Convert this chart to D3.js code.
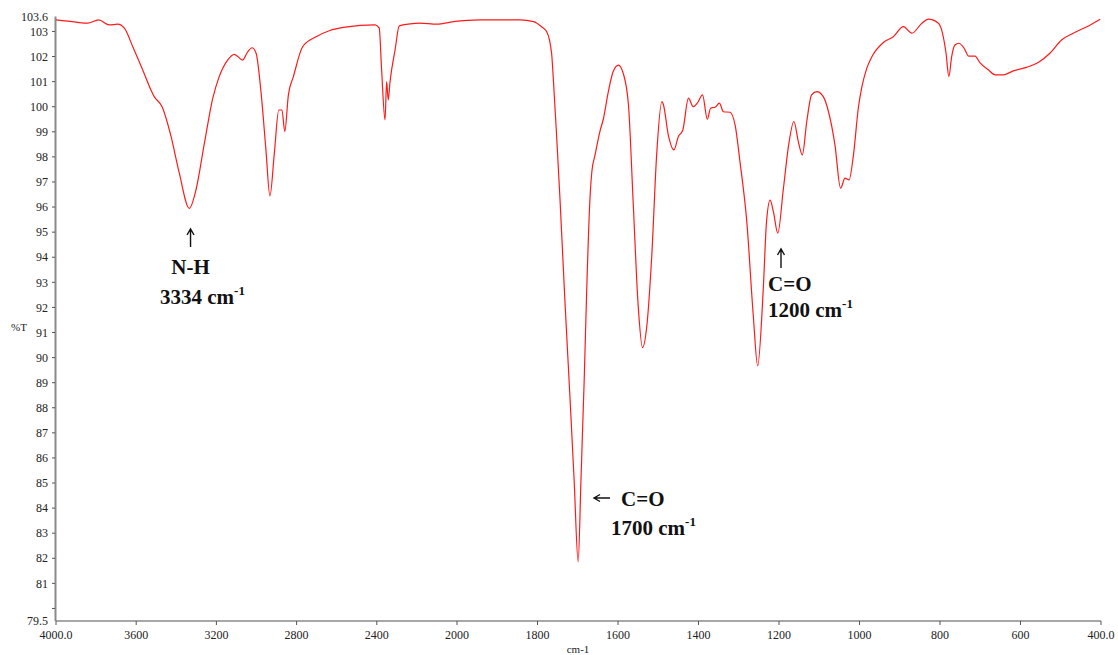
<!DOCTYPE html>
<html><head><meta charset="utf-8">
<script src="https://cdn.jsdelivr.net/npm/d3@7"></script>
<style>body{margin:0;background:#fff}svg{display:block}</style>
</head><body>
<svg id="c" width="1118" height="655"></svg>
<script>
// Wavenumber (cm-1)
const wavenumbers = [4000,3900,3842,3787,3734,3692,3659,3617,3568,3510,3471,3426,3385,3335,3302,3260,3218,3186,3144,3111,3069,3044,3022,3002,2977,2953,2933,2911,2889,2873,2859,2841,2816,2770,2703,2637,2557,2409,2388,2376,2359,2351,2343,2334,2309,2288,2234,2185,2101,2018,1943,1843,1810,1790,1777,1765,1761,1752,1744,1732,1719,1709,1699,1692,1684,1677,1670,1665,1657,1645,1636,1624,1612,1599,1587,1574,1562,1550,1539,1529,1516,1504,1491,1487,1475,1461,1450,1439,1425,1413,1403,1390,1378,1370,1359,1348,1338,1322,1309,1297,1280,1264,1253,1239,1231,1222,1214,1203,1189,1176,1163,1152,1142,1131,1119,1106,1090,1077,1061,1047,1036,1026,1015,1003,994,982,969,940,916,891,870,845,829,804,796,785,778,771,763,753,740,729,713,701,680,663,643,618,585,556,527,498,469,435,402];
// Transmittance (%T)
const transmittance = [103.46,103.37,103.33,103.46,103.26,103.29,103.13,102.39,101.47,100.40,100.00,98.81,97.35,95.95,96.68,98.54,100.34,101.20,101.86,102.09,101.86,102.19,102.35,102.13,100.54,98.28,96.44,98.15,99.87,99.87,99.01,100.47,101.20,102.39,102.79,103.03,103.17,103.26,103.13,101.47,99.47,101.0,100.27,101.0,102.26,103.22,103.30,103.33,103.29,103.39,103.46,103.46,103.39,103.19,102.99,102.13,101.20,98.68,96.28,92.30,88.31,85.12,81.86,85.12,89.11,93.09,96.22,97.41,98.08,99.01,99.54,100.60,101.40,101.66,101.33,100.07,96.08,92.10,90.40,91.17,94.09,98.08,100.20,100.07,98.87,98.28,98.81,99.07,100.34,100.0,100.14,100.47,99.50,99.94,99.98,100.14,99.80,99.78,99.27,97.81,95.42,91.70,89.67,92.76,95.42,96.28,95.82,94.96,96.75,98.48,99.41,98.61,98.08,99.41,100.47,100.60,100.40,99.80,98.48,96.75,97.15,97.08,98.08,99.94,100.80,101.53,102.0,102.57,102.79,103.19,102.93,103.33,103.49,103.33,103.06,102.13,101.20,102.0,102.46,102.53,102.33,102.02,102.02,101.76,101.47,101.27,101.27,101.43,101.57,101.76,102.13,102.66,102.93,103.19,103.49];

const xTicks = [4000,3600,3200,2800,2400,2000,1800,1600,1400,1200,1000,800,600,400];
const xTickLabels = ["4000.0","3600","3200","2800","2400","2000","1800","1600","1400","1200","1000","800","600","400.0"];
const yTicks = [80,81,82,83,84,85,86,87,88,89,90,91,92,93,94,95,96,97,98,99,100,101,102,103];
const yLabelValues = [103.6,103,102,101,100,99,98,97,96,95,94,93,92,91,90,89,88,87,86,85,84,83,82,81,79.5];
const yLabelTexts = ["103.6","103","102","101","100","99","98","97","96","95","94","93","92","91","90","89","88","87","86","85","84","83","82","81","79.5"];

const annotations = [
  {wn:3334, lines:["N-H","3334 cm"]},
  {wn:1700, lines:["C=O","1700 cm"]},
  {wn:1200, lines:["C=O","1200 cm"]}
];

const svg = d3.select("#c");
const x = d3.scaleLinear().domain([4000,2000,400]).range([56,457,1101]);
const y = d3.scaleLinear().domain([79.5,103.6]).range([621,16.4]);
const serif = "'Liberation Serif','Times New Roman',serif";

// axes lines
svg.append("line").attr("x1",56).attr("x2",1101).attr("y1",y(79.5)).attr("y2",y(79.5))
  .attr("stroke","#8a8a8a").attr("stroke-width",1.5);
svg.append("line").attr("x1",55.5).attr("x2",55.5).attr("y1",y(103.6)).attr("y2",y(79.5))
  .attr("stroke","#8a8a8a").attr("stroke-width",2);

// y ticks
svg.append("g").selectAll("line").data(yTicks).join("line")
  .attr("x1",52).attr("x2",55).attr("y1",d=>y(d)).attr("y2",d=>y(d))
  .attr("stroke","#555").attr("stroke-width",1);
svg.append("g").selectAll("text").data(yLabelValues).join("text")
  .attr("x",48).attr("y",d=>y(d)).attr("dy","0.35em").attr("text-anchor","end")
  .attr("font-family",serif).attr("font-size",12).attr("fill","#222")
  .text((d,i)=>yLabelTexts[i]);

// x ticks
svg.append("g").selectAll("line").data(xTicks).join("line")
  .attr("x1",d=>x(d)).attr("x2",d=>x(d)).attr("y1",y(79.5)).attr("y2",y(79.5)+4)
  .attr("stroke","#555").attr("stroke-width",1);
svg.append("g").selectAll("text").data(xTicks).join("text")
  .attr("x",d=>x(d)).attr("y",y(79.5)+18).attr("text-anchor","middle")
  .attr("font-family",serif).attr("font-size",12).attr("fill","#222")
  .text((d,i)=>xTickLabels[i]);

svg.append("text").attr("x",19).attr("y",331).attr("text-anchor","middle")
  .attr("font-family",serif).attr("font-size",11).attr("fill","#222").text("%T");
svg.append("text").attr("x",578).attr("y",653).attr("text-anchor","middle")
  .attr("font-family",serif).attr("font-size",11).attr("fill","#222").text("cm-1");

// spectrum
const data = wavenumbers.map((w,i)=>({w, t:transmittance[i]}));
svg.append("path").datum(data)
  .attr("fill","none").attr("stroke","#ff1a1a").attr("stroke-width",1.2)
  .attr("d", d3.line().x(d=>x(d.w)).y(d=>y(d.t)).curve(d3.curveMonotoneX));

// annotations
const FS = 21;
function label(xp, yp, main, anchor){
  svg.append("text").attr("x",xp).attr("y",yp).attr("text-anchor",anchor||"start")
    .attr("font-family",serif).attr("font-weight","bold").attr("font-size",FS).attr("fill","#111")
    .text(main);
}
function labelSup(xp, yp, main){
  const t = svg.append("text").attr("x",xp).attr("y",yp)
    .attr("font-family",serif).attr("font-weight","bold").attr("font-size",FS).attr("fill","#111");
  t.append("tspan").text(main);
  t.append("tspan").attr("font-size",13).attr("dy",-9).text("-1");
}
function arrowUp(xp, y1, y2){
  svg.append("path").attr("d",`M${xp},${y1}L${xp},${y2}M${xp-3.5},${y2+6}L${xp},${y2}L${xp+3.5},${y2+6}`)
    .attr("stroke","#111").attr("stroke-width",1.4).attr("fill","none");
}
function arrowLeft(x1, x2, yp){
  svg.append("path").attr("d",`M${x1},${yp}L${x2},${yp}M${x2+6},${yp-3.5}L${x2},${yp}L${x2+6},${yp+3.5}`)
    .attr("stroke","#111").attr("stroke-width",1.4).attr("fill","none");
}
const a0 = annotations[0], a1 = annotations[1], a2 = annotations[2];
arrowUp(x(a0.wn)+1, 247, 229);
label(x(a0.wn)+1, 274, a0.lines[0], "middle");
labelSup(160, 304, a0.lines[1]);

arrowLeft(610, 594, 498);
label(621, 506, a1.lines[0]);
labelSup(611, 535, a1.lines[1]);

arrowUp(x(a2.wn)+2, 268, 249);
label(768, 291, a2.lines[0]);
labelSup(768, 317, a2.lines[1]);
</script>
</body></html>
